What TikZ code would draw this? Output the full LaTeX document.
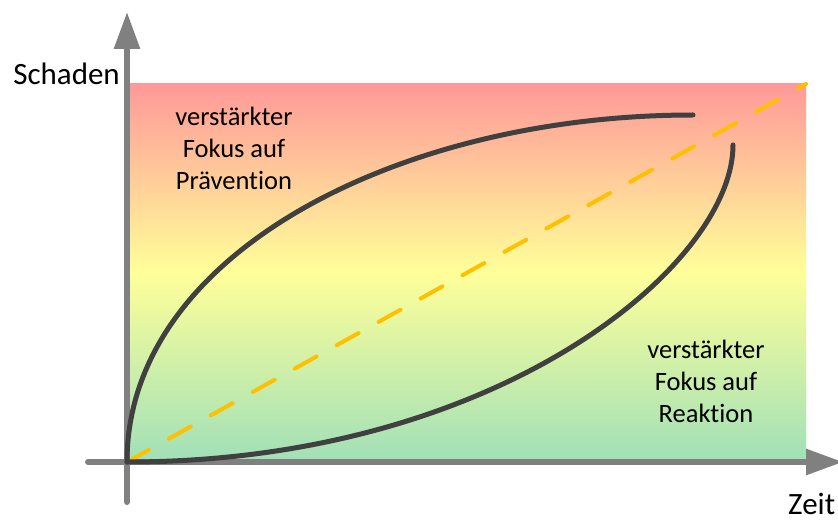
\documentclass[tikz,border=0pt]{standalone}
\usepackage{fontspec}
\setmainfont{Carlito}[Ligatures=NoCommon]
\usepackage{tikz}
\usetikzlibrary{arrows.meta,positioning}
\definecolor{axisgray}{RGB}{128,128,128}
\definecolor{curvegray}{RGB}{64,64,64}
\definecolor{trendorange}{RGB}{255,192,0}
\definecolor{zonered}{RGB}{255,153,153}
\definecolor{zoneyellow}{RGB}{255,255,153}
\definecolor{zonegreen}{RGB}{160,224,184}
\tikzset{%
	axis/.style     = {line width=6pt, axisgray, line cap=round, -{Triangle[length=37pt,width=25pt]}},
	curve/.style    = {line width=5pt, curvegray, line cap=round},
	trend/.style    = {line width=4pt, trendorange, line cap=round, dash pattern=on 25pt off 23pt},
	axislabel/.style= {font=\fontsize{31}{37}\selectfont, inner sep=0pt},
	focus/.style    = {font=\fontsize{26.5}{32}\selectfont, align=center, inner sep=0pt},
}
\begin{document}
\begin{tikzpicture}[x=1pt,y=1pt]
		\useasboundingbox (-127,-58) rectangle (711,462);
		\coordinate (O) at (0,0);
		
		\shade[top color=zonered, bottom color=zoneyellow] (0,190) rectangle (679,378);  % upper zone
		\shade[top color=zoneyellow, bottom color=zonegreen] (0,0) rectangle (679,190);  % lower zone
		
		\coordinate (ybot) at (0,-40);
		\coordinate (ytop) at (0,450);
		\coordinate (xleft) at (-39,0);
		\coordinate (xright) at (716,0);
		\draw[axis] (ybot) -- (ytop);  % y Axis
		\draw[axis] (xleft) -- (xright);  % x Axis
		\node[axislabel, anchor=base east] (schaden) at (-7,377) {Schaden};
		\node[axislabel, anchor=base west] (zeit) at (661,-52) {Zeit};
		
		\coordinate (trendend) at (679,378);
		\draw[trend] (O) -- (trendend);
		
		\coordinate (praevend) at (566,347);
		\coordinate (reaktend) at (606,317);
		\draw[curve] (O) .. controls (0,209) and (273,347) .. (praevend);
		\draw[curve] (O) .. controls (373,0) and (606,198) .. (reaktend);
		
		\node[focus] (praevention) at (107,313.5) {verstärkter\\Fokus auf\\Prävention};
		\node[focus] (reaktion) at (579,80.5) {verstärkter\\Fokus auf\\Reaktion};
	\end{tikzpicture}
\end{document}
